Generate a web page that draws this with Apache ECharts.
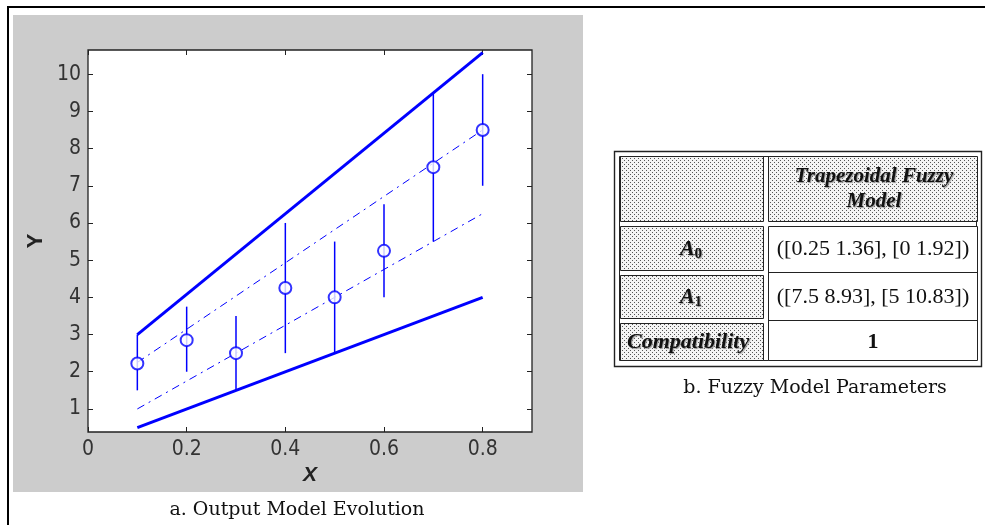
<!DOCTYPE html>
<html><head><meta charset="utf-8">
<script src="https://cdn.jsdelivr.net/npm/echarts@6/dist/echarts.min.js"></script>
<style>html,body{margin:0;padding:0;background:#fff}#c{width:985px;height:525px}</style>
</head><body><div id="c"></div>
<script>
// ---- data ----
const xTicks = [0, 0.2, 0.4, 0.6, 0.8];
const yTicks = [1, 2, 3, 4, 5, 6, 7, 8, 9, 10];
const obsX  = [0.1, 0.2, 0.3, 0.4, 0.5, 0.6, 0.7, 0.8];
const obsY  = [2.22, 2.85, 2.5, 4.25, 4.0, 5.25, 7.5, 8.5];
const obsLo = [1.5, 2.0, 1.5, 2.5, 2.5, 4.0, 5.5, 7.0];
const obsHi = [3.0, 3.75, 3.5, 6.0, 5.5, 6.5, 9.5, 10.0];
const lineX = [0.1, 0.8];
const outerUpper = [3.0, 10.58];
const outerLower = [0.5, 4.0];
const coreUpper = [2.25, 8.5];
const coreLower = [1.0, 6.25];
const tableHeader = ['Trapezoidal Fuzzy', 'Model'];
const tableRowNames = [['A', '0'], ['A', '1'], ['Compatibility']];
const tableRowValues = ['([0.25 1.36], [0 1.92])', '([7.5 8.93], [5 10.83])', '1'];
const captionA = 'a. Output Model Evolution';
const captionB = 'b. Fuzzy Model Parameters';
const xName = 'X', yName = 'Y';

// ---- styles ----
const BLUE = '#0000ff';
const tickFont = "'Liberation Sans Narrow','DejaVu Sans Condensed',Roboto,'Liberation Sans',sans-serif";
const pc = document.createElement('canvas'); pc.width = 4; pc.height = 4;
const g = pc.getContext('2d');
g.fillStyle = '#f4f4f4'; g.fillRect(0, 0, 4, 4);
g.fillStyle = '#555'; g.fillRect(0, 0, 1, 1); g.fillRect(2, 2, 1, 1);
const stipple = { image: pc, repeat: 'repeat' };

const pairs = (xs, ys) => xs.map((x, i) => [x, ys[i]]);

// ---- table graphics ----
const tbl = [];
const L = '#222';
tbl.push({ type: 'rect', shape: { x: 614.5, y: 151.5, width: 367, height: 215 }, style: { fill: '#fff', stroke: L, lineWidth: 1.4 } });
tbl.push({ type: 'rect', shape: { x: 619.5, y: 156.5, width: 357, height: 204 }, style: { fill: '#fff', stroke: L, lineWidth: 1 } });
const leftX = 620, leftW = 143, rightX = 768, rightW = 209;
const rowY = [[156, 221], [226, 270], [275, 318], [323, 360]];
rowY.forEach(([a, b]) => {
  tbl.push({ type: 'rect', shape: { x: leftX + 0.5, y: a + 0.5, width: leftW, height: b - a }, style: { fill: stipple, stroke: L, lineWidth: 1 } });
});
tbl.push({ type: 'rect', shape: { x: rightX + 0.5, y: 156.5, width: rightW, height: 65 }, style: { fill: stipple, stroke: L, lineWidth: 1 } });
tbl.push({ type: 'rect', shape: { x: rightX + 0.5, y: 226.5, width: rightW, height: 134 }, style: { fill: '#fff', stroke: L, lineWidth: 1 } });
tbl.push({ type: 'line', shape: { x1: rightX, y1: 272.5, x2: rightX + rightW, y2: 272.5 }, style: { stroke: L, lineWidth: 1 } });
tbl.push({ type: 'line', shape: { x1: rightX, y1: 320.5, x2: rightX + rightW, y2: 320.5 }, style: { stroke: L, lineWidth: 1 } });

const shadowTxt = { textShadowColor: '#9a9a9a', textShadowOffsetX: 1, textShadowOffsetY: 1, textShadowBlur: 1 };
tableHeader.forEach((t, i) => {
  tbl.push({ type: 'text', x: 874, y: 177 + i * 25, style: Object.assign({ text: t, fill: '#111', font: "italic bold 21px 'Liberation Serif'", align: 'center', verticalAlign: 'middle' }, shadowTxt) });
});
const centersY = [249, 297, 342];
tableRowNames.forEach((nm, i) => {
  if (nm.length === 2) {
    tbl.push({ type: 'text', x: 691, y: centersY[i], style: Object.assign({
      text: '{a|' + nm[0] + '}{s|' + nm[1] + '}', align: 'center', verticalAlign: 'middle',
      rich: { a: { fill: '#111', font: "italic bold 22px 'Liberation Serif'" },
              s: { fill: '#111', font: "bold 15px 'Liberation Serif'", padding: [10, 0, 0, 0] } } }, shadowTxt) });
  } else {
    tbl.push({ type: 'text', x: 627, y: centersY[i], style: Object.assign({ text: nm[0], fill: '#111', font: "italic bold 22px 'Liberation Serif'", align: 'left', verticalAlign: 'middle', width: 134, overflow: 'truncate', ellipsis: '' }, shadowTxt) });
  }
  tbl.push({ type: 'text', x: 873, y: centersY[i], style: { text: tableRowValues[i], fill: '#111', font: (i === 2 ? 'bold ' : '') + "22px 'Liberation Serif'", align: 'center', verticalAlign: 'middle' } });
});

const tickStyle = (vals) => ({ show: true, inside: true, length: 5, customValues: vals, lineStyle: { color: '#222', width: 1 } });
const hiddenLine = { show: true, onZero: false, lineStyle: { color: 'rgba(0,0,0,0)' } };

const chart = echarts.init(document.getElementById('c'), null, { renderer: 'canvas' });
chart.setOption({
  animation: false,
  backgroundColor: '#fff',
  grid: { left: 88, top: 50, width: 444, height: 382, show: true, backgroundColor: '#fff', borderColor: '#222', borderWidth: 1.3 },
  xAxis: [
    { type: 'value', min: 0, max: 0.9, position: 'bottom',
      name: xName, nameLocation: 'middle', nameGap: 33,
      nameTextStyle: { fontFamily: 'Liberation Sans', fontWeight: 'bold', fontStyle: 'italic', fontSize: 21, color: '#222' },
      axisLine: hiddenLine, splitLine: { show: false },
      axisTick: tickStyle(xTicks),
      axisLabel: { customValues: xTicks, margin: 7, fontFamily: tickFont, fontSize: 21, color: '#333', formatter: v => String(+v.toFixed(1)) } },
    { type: 'value', min: 0, max: 0.9, position: 'top',
      axisLine: hiddenLine, splitLine: { show: false }, axisLabel: { show: false },
      axisTick: tickStyle(xTicks) }
  ],
  yAxis: [
    { type: 'value', min: 0.38, max: 10.65, position: 'left',
      name: yName, nameLocation: 'middle', nameGap: 41, nameRotate: 90,
      nameTextStyle: { fontFamily: 'Liberation Sans', fontWeight: 'bold', fontSize: 22, color: '#222' },
      axisLine: hiddenLine, splitLine: { show: false },
      axisTick: tickStyle(yTicks),
      axisLabel: { customValues: yTicks, margin: 7, fontFamily: tickFont, fontSize: 21, color: '#333' } },
    { type: 'value', min: 0.38, max: 10.65, position: 'right',
      axisLine: hiddenLine, splitLine: { show: false }, axisLabel: { show: false },
      axisTick: tickStyle(yTicks) }
  ],
  series: [
    { type: 'line', data: pairs(lineX, outerUpper), symbol: 'none', lineStyle: { color: BLUE, width: 3 } },
    { type: 'line', data: pairs(lineX, outerLower), symbol: 'none', lineStyle: { color: BLUE, width: 3 } },
    { type: 'line', data: pairs(lineX, coreUpper), symbol: 'none', lineStyle: { color: BLUE, width: 1, type: [8, 5, 2, 5] } },
    { type: 'line', data: pairs(lineX, coreLower), symbol: 'none', lineStyle: { color: BLUE, width: 1, type: [8, 5, 2, 5] } },
    { type: 'custom', data: obsX.map((x, i) => [x, obsLo[i], obsHi[i]]), encode: { x: 0, y: [1, 2] },
      renderItem: (p, api) => {
        const a = api.coord([api.value(0), api.value(1)]);
        const b = api.coord([api.value(0), api.value(2)]);
        return { type: 'line', shape: { x1: a[0], y1: a[1], x2: b[0], y2: b[1] }, style: { stroke: BLUE, lineWidth: 1.5 } };
      } },
    { type: 'scatter', data: pairs(obsX, obsY), symbol: 'emptyCircle', symbolSize: 12,
      itemStyle: { color: BLUE, borderColor: BLUE, borderWidth: 1.5 }, z: 5 }
  ],
  graphic: [
    { type: 'rect', z: -100, shape: { x: 13, y: 15, width: 570, height: 477 }, style: { fill: '#cccccc' } },
    { type: 'polyline', z: 100, shape: { points: [[8, 525], [8, 7], [985, 7]] }, style: { stroke: '#000', lineWidth: 2, fill: null } },
    { type: 'text', x: 297, y: 510, style: { text: captionA, fill: '#111', font: "19px 'DejaVu Serif'", align: 'center', verticalAlign: 'middle' } },
    { type: 'text', x: 815, y: 388, style: { text: captionB, fill: '#111', font: "19px 'DejaVu Serif'", align: 'center', verticalAlign: 'middle' } }
  ].concat(tbl)
});
</script></body></html>
